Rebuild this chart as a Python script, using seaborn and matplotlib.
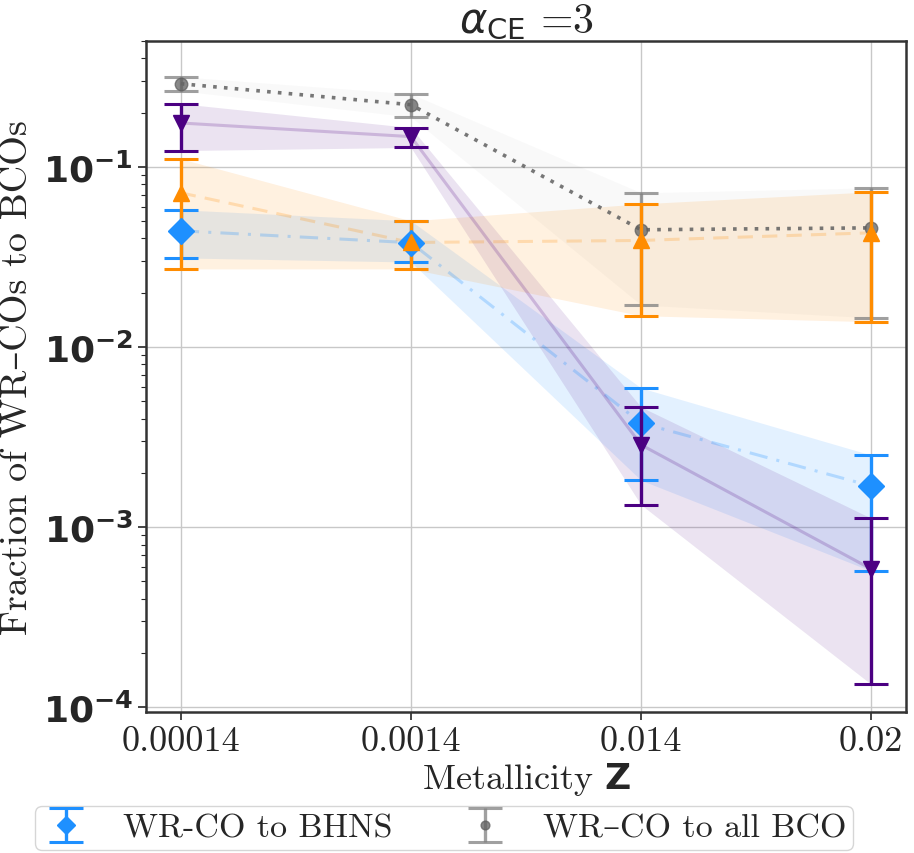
#!/usr/bin/env python3
"""
WR-CO fractions vs metallicity for alpha_CE = 3.

Four channels with error bars and shaded uncertainty bands on a log axis.
Only the BHNS and all-BCO channels go into the legend.
"""
from __future__ import annotations

import matplotlib

matplotlib.use("Agg")
import matplotlib.pyplot as plt
import matplotlib.ticker as mticker
import numpy as np
import pandas as pd
import seaborn as sns

METALLICITY = ["0.00014", "0.0014", "0.014", "0.02"]

# WR-CO to BHNS
BHNS = [0.0441, 0.0379, 0.00378, 0.00169]
BHNS_LO = [0.0312, 0.0296, 0.00182, 0.00057]
BHNS_HI = [0.0577, 0.0501, 0.00592, 0.00251]

# purple channel (down triangles)
PURPLE = [0.175, 0.147, 0.00286, 0.000585]
PURPLE_LO = [0.123, 0.128, 0.00133, 0.000134]
PURPLE_HI = [0.224, 0.165, 0.00464, 0.00112]

# orange channel (up triangles)
ORANGE = [0.0717, 0.038, 0.039, 0.043]
ORANGE_LO = [0.0271, 0.0271, 0.0149, 0.0138]
ORANGE_HI = [0.1108, 0.0501, 0.0623, 0.0726]

# WR-CO to all BCO
ALL_BCO = [0.289, 0.221, 0.0447, 0.0458]
ALL_BCO_LO = [0.264, 0.189, 0.0171, 0.0145]
ALL_BCO_HI = [0.316, 0.254, 0.0717, 0.0764]

SERIES = {
    "all": (ALL_BCO, ALL_BCO_LO, ALL_BCO_HI),
    "bhns": (BHNS, BHNS_LO, BHNS_HI),
    "purple": (PURPLE, PURPLE_LO, PURPLE_HI),
    "orange": (ORANGE, ORANGE_LO, ORANGE_HI),
}

STYLE = {
    "bhns": dict(color="#1E90FF", marker="D", ms=13, line=(6, 3, 1, 3), line_alpha=0.25,
                 band_alpha=0.12, z=4, label="WR-CO to BHNS"),
    "purple": dict(color="#4B0082", marker="v", ms=12, line="", line_alpha=0.2,
                   band_alpha=0.11, z=5, label=None),
    "orange": dict(color="#FF8C00", marker="^", ms=12, line=(5, 3), line_alpha=0.22,
                   band_alpha=0.12, z=4, label=None),
    "all": dict(color="#606060", marker="o", ms=9, line=(1, 2), line_alpha=0.85,
                band_alpha=0.035, z=3, label="WR\u2013CO to all BCO"),
}


def main() -> None:
    sns.set_style("white")
    plt.rcParams["font.family"] = ["cmr10", "DejaVu Serif"]
    plt.rcParams["mathtext.fontset"] = "dejavusans"
    plt.rcParams["axes.unicode_minus"] = False
    plt.rcParams["axes.formatter.use_mathtext"] = True

    rows = []
    for key, (mid, lo, hi) in SERIES.items():
        for i, z in enumerate(METALLICITY):
            rows.append({"series": key, "pos": i, "Z": z, "frac": mid[i], "lo": lo[i], "hi": hi[i]})
    df = pd.DataFrame(rows)

    fig = plt.figure(figsize=(9.14, 8.54), dpi=100)
    ax = fig.add_axes([0.160, 0.165, 0.831, 0.786])

    sns.lineplot(
        data=df,
        x="pos",
        y="frac",
        hue="series",
        style="series",
        palette={k: v["color"] for k, v in STYLE.items()},
        dashes={k: v["line"] for k, v in STYLE.items()},
        linewidth=2.2,
        legend=False,
        ax=ax,
        zorder=2,
    )
    for line, key in zip(ax.lines, SERIES):
        line.set_alpha(STYLE[key]["line_alpha"])
        if key == "all":
            line.set_linewidth(2.6)

    handles = {}
    for key in SERIES:
        st = STYLE[key]
        sub = df[df["series"] == key]
        ax.fill_between(sub["pos"], sub["lo"], sub["hi"], color=st["color"],
                        alpha=st["band_alpha"], lw=0, zorder=1)
        yerr = np.vstack([sub["frac"] - sub["lo"], sub["hi"] - sub["frac"]])
        handles[key] = ax.errorbar(
            sub["pos"], sub["frac"], yerr=yerr,
            fmt=st["marker"], ms=st["ms"], color=st["color"],
            ecolor=st["color"] if key != "all" else "#808080",
            elinewidth=2.4, capsize=12, capthick=2.2,
            alpha=0.75 if key == "all" else 1.0,
            label=st["label"], zorder=st["z"],
        )

    ax.set_yscale("log")
    ax.set_ylim(9.4e-5, 0.5)
    ax.set_xlim(-0.15, 3.15)
    ax.set_xticks(range(len(METALLICITY)))
    ax.set_xticklabels(METALLICITY)
    ax.yaxis.set_major_locator(mticker.FixedLocator([1e-4, 1e-3, 1e-2, 1e-1]))
    ax.yaxis.set_major_formatter(
        mticker.FuncFormatter(lambda v, _: r"$\mathbf{10^{%d}}$" % round(np.log10(v)))
    )
    ax.yaxis.set_minor_locator(mticker.LogLocator(base=10, subs=np.arange(2, 10), numticks=20))
    ax.yaxis.set_minor_formatter(mticker.NullFormatter())
    ax.grid(True, which="major", color="#c8c8c8", lw=1.0)
    ax.tick_params(axis="both", which="major", labelsize=26, length=6, width=1.2,
                   direction="out", left=True, bottom=True)
    ax.tick_params(axis="y", which="minor", length=3.5, width=0.8, left=True)
    for spine in ax.spines.values():
        spine.set_color("#333333")
        spine.set_linewidth(1.8)

    ax.set_xlabel(r"Metallicity $\mathbf{Z}$", fontsize=26, labelpad=2)
    ax.set_ylabel("Fraction of WR\u2013COs to BCOs", fontsize=27.5, labelpad=6)
    ax.set_title(r"$\alpha_{\mathsf{CE}}$ =3", fontsize=30, pad=6)

    fig.legend(
        [handles["bhns"], handles["all"]],
        [STYLE["bhns"]["label"], STYLE["all"]["label"]],
        loc="lower right",
        bbox_to_anchor=(0.933, 0.004),
        borderaxespad=0,
        ncol=2,
        fontsize=24.5,
        markerscale=0.7,
        frameon=True,
        edgecolor="#cccccc",
        handlelength=1.4,
        handletextpad=1.0,
        columnspacing=2.0,
        borderpad=0.2,
    )

    fig.savefig("out.png", dpi=100)
    plt.close(fig)


if __name__ == "__main__":
    main()
